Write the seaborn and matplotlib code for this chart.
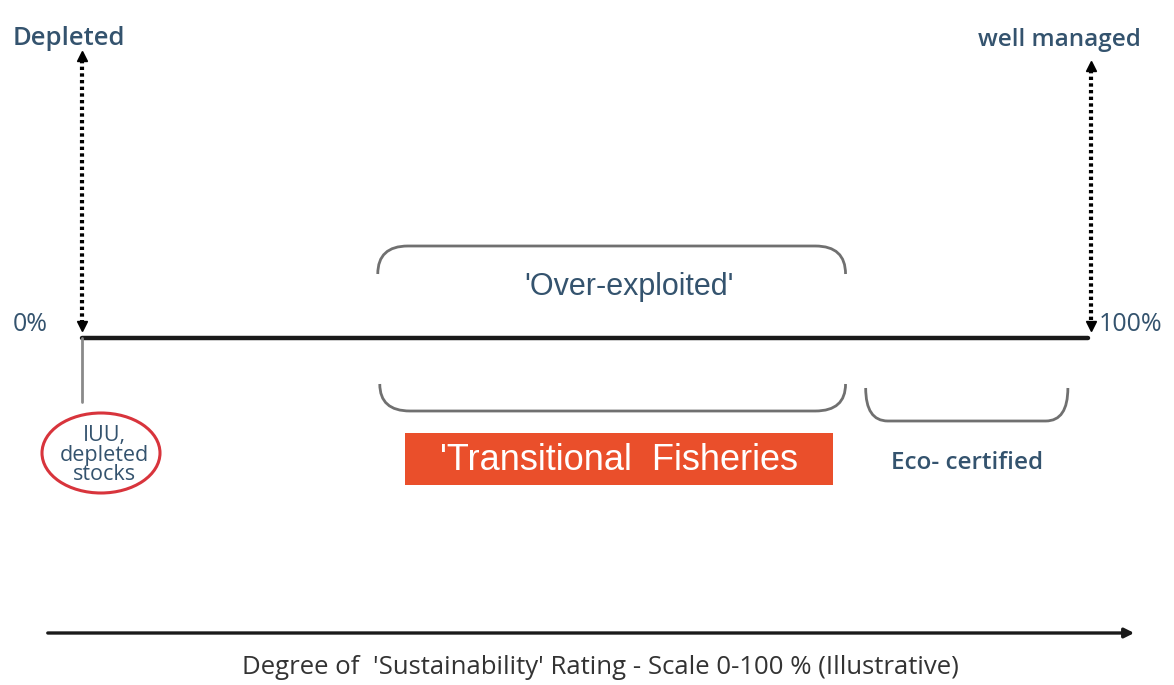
import numpy as np
import matplotlib
matplotlib.use("Agg")
import matplotlib.pyplot as plt
from matplotlib.path import Path
from matplotlib.patches import PathPatch, Ellipse, Rectangle
import seaborn as sns

# scale in percent (0 = depleted, 100 = well managed)
scale_ends = [0, 100]
end_labels = ["0%", "100%"]
pole_labels = ["Depleted", "well managed"]

# category spans along the scale (percent)
over_span = [29.4, 75.9]
transit_span = [29.6, 75.9]
eco_span = [77.9, 98.0]
transit_box = [32.1, 74.7]
category_labels = ["'Over-exploited'", "'Transitional  Fisheries", "Eco- certified"]
iuu_label = "IUU,\ndepleted\nstocks"
axis_label = "Degree of  'Sustainability' Rating - Scale 0-100 % (Illustrative)"

PX = 10.06  # pixels per percent
def pct(px):
    return (px - 82) / PX

sns.set_theme(style="white")
fig = plt.figure(figsize=(11.74, 6.85), dpi=100)
ax = fig.add_axes([0, 0, 1, 1])
ax.set_xlim(pct(0), pct(1174))
ax.set_ylim(685, 0)
ax.axis("off")

teal = "#34536e"
gray = "#707070"
cal = "Open Sans"

# main scale line
sns.lineplot(x=scale_ends, y=[338, 338], color="#1a1a1a", lw=3.2, ax=ax)
# stem down to IUU
ax.plot([0, 0], [338, 402], color="#8a8a8a", lw=2)

# dotted double arrows at the poles
for x, ytop in zip([scale_ends[0], scale_ends[1] + 0.3], [52, 62]):
    ax.plot([x, x], [ytop + 8, 322], color="black", lw=3, ls=(0, (0.8, 0.8)))
    ax.plot([x], [ytop + 4], marker="^", color="black", ms=7)
    ax.plot([x], [326], marker="v", color="black", ms=7)

ax.text(pct(13), 38, pole_labels[0], color=teal, fontsize=18.5, fontfamily=cal,
        fontweight="semibold", va="center", ha="left")
ax.text(pct(1059), 40, pole_labels[1], color=teal, fontsize=17.5, fontfamily=cal,
        fontweight="semibold", va="center", ha="center")
ax.text(pct(13), 324, end_labels[0], color=teal, fontsize=18, fontfamily=cal,
        va="center", ha="left")
ax.text(pct(1099), 324, end_labels[1], color=teal, fontsize=18, fontfamily=cal,
        va="center", ha="left")


def bracket(span, y_flat, y_end, r=3.0):
    x0, x1 = span
    verts = [(x0, y_end), (x0, y_flat), (x0 + r, y_flat), (x1 - r, y_flat),
             (x1, y_flat), (x1, y_end)]
    codes = [Path.MOVETO, Path.CURVE3, Path.CURVE3, Path.LINETO, Path.CURVE3, Path.CURVE3]
    ax.add_patch(PathPatch(Path(verts, codes), fill=False, edgecolor=gray, lw=2))


bracket(over_span, 246, 274)
bracket(transit_span, 411, 384)
bracket(eco_span, 421, 388, r=2.2)

ax.text(pct(629), 287, category_labels[0], color=teal, fontsize=22,
        fontfamily="Liberation Sans", ha="center", va="center")

ax.add_patch(Rectangle((transit_box[0], 433), transit_box[1] - transit_box[0], 52,
                       facecolor="#ea4f2b", edgecolor="none"))
ax.text(np.mean(transit_box), 460, category_labels[1], color="white", fontsize=26,
        fontfamily="Liberation Sans", ha="center", va="center")
ax.text(np.mean(eco_span), 463, category_labels[2], color=teal, fontsize=17.5,
        fontfamily=cal, fontweight="semibold", ha="center", va="center")

# IUU bubble
ax.add_patch(Ellipse((pct(101), 453), 118 / PX, 80, facecolor="none",
                     edgecolor="#d8343c", lw=2.2))
ax.text(pct(104), 455, iuu_label, color=teal, fontsize=15.5, fontfamily=cal,
        ha="center", va="center", linespacing=0.92)

# bottom axis arrow
ax.annotate("", xy=(pct(1137), 633), xytext=(pct(45), 633),
            arrowprops=dict(arrowstyle="-|>", color="#1a1a1a", lw=2.4,
                            mutation_scale=14))
ax.text(pct(600), 668, axis_label, color="#333333", fontsize=18.5, fontfamily=cal,
        ha="center", va="center")

fig.savefig("out.png", dpi=100)
